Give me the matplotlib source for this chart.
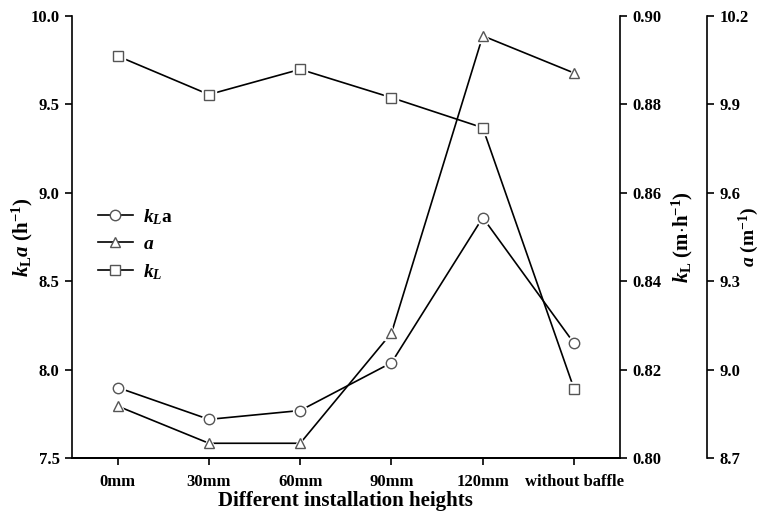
import numpy as np
import matplotlib
matplotlib.use("Agg")
import matplotlib.pyplot as plt
from matplotlib.lines import Line2D

plt.rcParams['font.family'] = ['Liberation Serif', 'DejaVu Serif']
plt.rcParams['font.weight'] = 'bold'
plt.rcParams['mathtext.fontset'] = 'custom'
plt.rcParams['mathtext.rm'] = 'Liberation Serif:bold'
plt.rcParams['mathtext.it'] = 'Liberation Serif:italic:bold'
plt.rcParams['mathtext.bf'] = 'Liberation Serif:bold'

# data
heights = ['0mm', '30mm', '60mm', '90mm', '120mm', 'without baffle']
kla = [7.90, 7.72, 7.77, 8.04, 8.86, 8.15]             # h^-1
a_vals = [8.877, 8.751, 8.751, 9.125, 10.132, 10.006]  # m^-1
kl = [0.8909, 0.8822, 0.8879, 0.8815, 0.8747, 0.8157]  # m/h

kla_ticks = [7.5, 8.0, 8.5, 9.0, 9.5, 10.0]
kl_ticks = [0.80, 0.82, 0.84, 0.86, 0.88, 0.90]
a_ticks = [8.7, 9.0, 9.3, 9.6, 9.9, 10.2]

x = np.arange(len(heights))
edge = '#555555'

fig = plt.figure(figsize=(7.66, 5.17), dpi=100)
ax = fig.add_axes([0.094, 0.1135, 0.715, 0.856])
ax2 = ax.twinx()
ax3 = ax.twinx()
ax3.spines['right'].set_position(('axes', 1.159))


def draw(axis, y, marker):
    axis.plot(x, y, color='black', lw=1.2, zorder=2)
    # white halo so the line stops short of the marker
    axis.plot(x, y, ls='none', marker=marker, ms=10, mfc='white', mec='white', zorder=3)
    axis.plot(x, y, ls='none', marker=marker, ms=7.5,
              mfc='white', mec=edge, mew=1.0, zorder=4)


draw(ax, kla, 'o')
draw(ax3, a_vals, '^')
draw(ax2, kl, 's')

ax.set_xlim(-0.5, 5.5)
ax.set_ylim(7.5, 10.0)
ax.set_yticks(kla_ticks)
ax.set_yticklabels(['%.1f' % v for v in kla_ticks])
ax.set_xticks(x)
ax.set_xticklabels(heights)

ax2.set_ylim(0.80, 0.90)
ax2.set_yticks(kl_ticks)
ax2.set_yticklabels(['%.2f' % v for v in kl_ticks])

ax3.set_ylim(8.7, 10.2)
ax3.set_yticks(a_ticks)
ax3.set_yticklabels(['%.1f' % v for v in a_ticks])

for axis in (ax, ax2, ax3):
    axis.spines['top'].set_visible(False)
    for s in axis.spines.values():
        s.set_linewidth(1.2)
    axis.tick_params(direction='out', length=5, width=1.2, labelsize=12, pad=4)
ax2.spines['left'].set_visible(False)
ax3.spines['left'].set_visible(False)
ax.spines['right'].set_visible(False)
ax.tick_params(axis='x', pad=6)

ax.set_xlabel('Different installation heights', fontsize=15, fontweight='bold')
ax.xaxis.set_label_coords(0.5, -0.073)
ax.set_ylabel(r'$k_{\mathrm{L}}a$ (h$^{\mathrm{-1}}$)', fontsize=15, fontweight='bold')
ax.yaxis.set_label_coords(-0.0675, 0.5)
ax2.set_ylabel(r'$k_{\mathrm{L}}$ (m$\cdot$h$^{\mathrm{-1}}$)', fontsize=15, fontweight='bold')
ax2.yaxis.set_label_coords(1.091, 0.5)
ax3.set_ylabel(r'$a$ (m$^{\mathrm{-1}}$)', fontsize=14, fontweight='bold')
ax3.yaxis.set_label_coords(1.214, 0.5)

# legend handles with line through marker
handles = [Line2D([], [], color='black', lw=1.2, marker=m, ms=7.5, mfc='white', mec=edge)
           for m in ('o', '^', 's')]
ax.legend(handles, [r'$k_L$a', r'$a$', r'$k_L$'], loc='upper left',
          bbox_to_anchor=(0.105, 0.633), bbox_transform=fig.transFigure,
          frameon=False, fontsize=14, handlelength=1.8, labelspacing=0.45,
          handletextpad=0.5)

fig.savefig('out.png', dpi=100)
